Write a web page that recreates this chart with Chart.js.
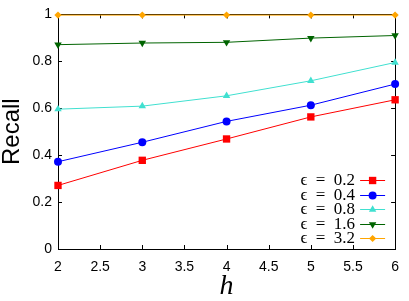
<!DOCTYPE html>
<html>
<head>
<meta charset="utf-8">
<script src="https://cdn.jsdelivr.net/npm/chart.js@4"></script>
<style>
  html, body { margin: 0; padding: 0; background: #fff; }
  #wrap { width: 409px; height: 301px; }
</style>
</head>
<body>
<div id="wrap"><canvas id="recallChart"></canvas></div>
<script>
// values
const hValues = [2, 3, 4, 5, 6];
const eps02 = [0.271, 0.378, 0.469, 0.563, 0.636];
const eps04 = [0.372, 0.455, 0.544, 0.613, 0.703];
const eps08 = [0.596, 0.609, 0.653, 0.717, 0.795];
const eps16 = [0.871, 0.878, 0.881, 0.899, 0.910];
const eps32 = [0.997, 0.997, 0.997, 0.997, 0.997];
const seriesLabels = ['ϵ\u2002=\u20020.2', 'ϵ\u2002=\u20020.4', 'ϵ\u2002=\u20020.8', 'ϵ\u2002=\u20021.6', 'ϵ\u2002=\u20023.2'];

function pts(vals) {
  return vals.map((v, i) => ({ x: hValues[i], y: v }));
}

function makeSet(label, vals, color, style, radius, rotation) {
  return {
    label: label,
    data: pts(vals),
    borderColor: color,
    backgroundColor: color,
    borderWidth: 1,
    pointStyle: style,
    pointRadius: radius,
    pointRotation: rotation || 0,
    pointBorderWidth: 0,
    pointBackgroundColor: color,
    clip: false,
    tension: 0
  };
}

function trimLabel(v) {
  return String(Number(v.toFixed(2)));
}

// gnuplot style frame with inward ticks on all four sides
const framePlugin = {
  id: 'frame',
  beforeDatasetsDraw(chart) {
    const ctx = chart.ctx;
    const a = chart.chartArea;
    const xs = chart.scales.x;
    const ys = chart.scales.y;
    ctx.save();
    ctx.strokeStyle = '#000';
    ctx.lineWidth = 1;
    ctx.strokeRect(Math.round(a.left) + 0.5, Math.round(a.top) + 0.5,
      Math.round(a.right - a.left), Math.round(a.bottom - a.top));
    ctx.beginPath();
    xs.ticks.forEach(t => {
      const px = Math.round(xs.getPixelForValue(t.value)) + 0.5;
      ctx.moveTo(px, a.bottom); ctx.lineTo(px, a.bottom - 4);
      ctx.moveTo(px, a.top); ctx.lineTo(px, a.top + 4);
    });
    ys.ticks.forEach(t => {
      const py = Math.round(ys.getPixelForValue(t.value)) + 0.5;
      ctx.moveTo(a.left, py); ctx.lineTo(a.left + 4, py);
      ctx.moveTo(a.right, py); ctx.lineTo(a.right - 4, py);
    });
    ctx.stroke();
    ctx.restore();
  }
};

// key in the lower right: text first, then sample line with marker
const keyPlugin = {
  id: 'key',
  afterDatasetsDraw(chart) {
    const ctx = chart.ctx;
    const a = chart.chartArea;
    const textRight = a.right - 40;
    const lineL = a.right - 35, lineR = a.right - 10;
    let y = a.bottom - 69;
    ctx.save();
    ctx.font = '17px "Liberation Serif"';
    ctx.textAlign = 'right';
    ctx.textBaseline = 'middle';
    chart.data.datasets.forEach(ds => {
      const ly = Math.round(y) + 0.5;
      ctx.fillStyle = '#000';
      ctx.fillText(ds.label, textRight, y + 1);
      ctx.strokeStyle = ds.borderColor;
      ctx.lineWidth = 1;
      ctx.beginPath();
      ctx.moveTo(lineL, ly);
      ctx.lineTo(lineR, ly);
      ctx.stroke();
      ctx.fillStyle = ds.pointBackgroundColor;
      Chart.helpers.drawPoint(ctx, {
        pointStyle: ds.pointStyle,
        radius: ds.pointRadius,
        rotation: ds.pointRotation,
        borderWidth: 0
      }, (lineL + lineR) / 2, ly);
      y += 14.5;
    });
    ctx.restore();
  }
};

const ctx = document.getElementById('recallChart');

new Chart(ctx, {
  type: 'line',
  data: {
    datasets: [
      makeSet(seriesLabels[0], eps02, '#ff0000', 'rect', 5.2),
      makeSet(seriesLabels[1], eps04, '#0000ff', 'circle', 4),
      makeSet(seriesLabels[2], eps08, '#40e0d0', 'triangle', 4.3),
      makeSet(seriesLabels[3], eps16, '#006400', 'triangle', 4.3, 180),
      makeSet(seriesLabels[4], eps32, '#ffa500', 'rectRot', 3.6)
    ]
  },
  plugins: [framePlugin, keyPlugin],
  options: {
    responsive: true,
    maintainAspectRatio: false,
    animation: false,
    layout: { padding: { top: 8, right: 6, left: 0, bottom: 0 } },
    plugins: {
      legend: { display: false },
      tooltip: { enabled: false }
    },
    scales: {
      x: {
        type: 'linear',
        min: 2,
        max: 6,
        grid: { display: false, drawTicks: false },
        border: { display: false },
        ticks: {
          stepSize: 0.5,
          padding: 10,
          color: '#000',
          maxRotation: 0,
          callback: trimLabel,
          font: { family: 'Liberation Sans', size: 14 }
        },
        title: {
          display: true,
          text: 'h',
          color: '#000',
          padding: { top: 0, bottom: 0 },
          font: { family: 'Liberation Serif', size: 28, style: 'italic', lineHeight: 1 }
        },
        afterFit(scale) { scale.height = 52; }
      },
      y: {
        min: 0,
        max: 1,
        grid: { display: false, drawTicks: false },
        border: { display: false },
        ticks: {
          stepSize: 0.2,
          padding: 6,
          color: '#000',
          callback: trimLabel,
          font: { family: 'Liberation Sans', size: 14 }
        },
        title: {
          display: true,
          text: 'Recall',
          color: '#000',
          padding: { top: 0, bottom: 0 },
          font: { family: 'Liberation Sans', size: 24, lineHeight: 1 }
        },
        afterFit(scale) { scale.width = 58; }
      }
    }
  }
});
</script>
</body>
</html>
